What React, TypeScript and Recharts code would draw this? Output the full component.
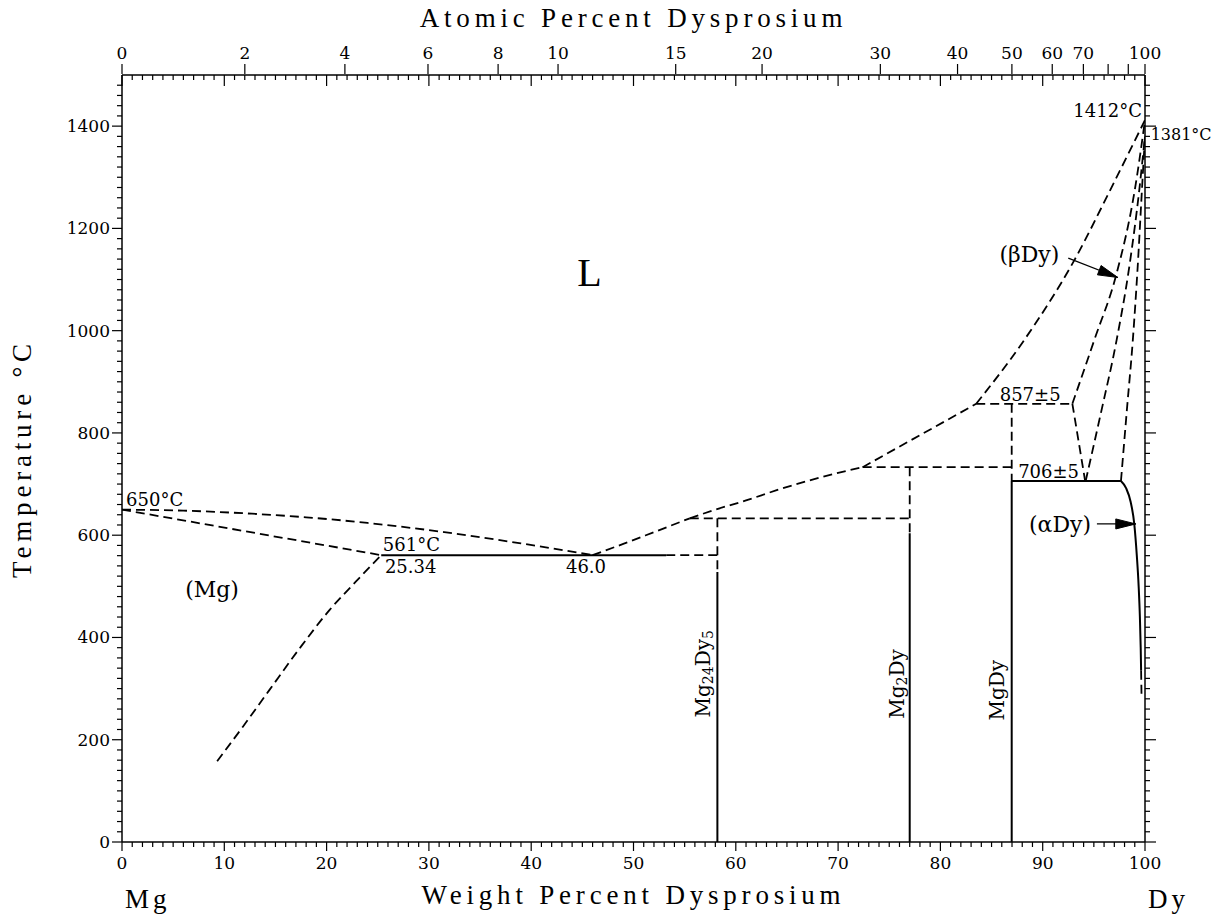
import React from "react";
import { ComposedChart, Line, XAxis, YAxis, ReferenceDot, Label } from "recharts";

type P = { x: number; y: number };

// ---------- axis ticks ----------
const weightMajor = [0, 10, 20, 30, 40, 50, 60, 70, 80, 90, 100];
const weightMinor = Array.from({ length: 101 }, (_, i) => i);
const tempMajor = [0, 200, 400, 600, 800, 1000, 1200, 1400];
const tempMinor = Array.from({ length: 75 }, (_, i) => i * 20);
const atomicTicks = [0, 2, 4, 6, 8, 10, 15, 20, 30, 40, 50, 60, 70, 80, 90, 100];
const atomicLabelled = [0, 2, 4, 6, 8, 10, 15, 20, 30, 40, 50, 60, 70, 100];

// atomic masses for the at.% -> wt.% top scale
const MASS_MG = 24.305;
const MASS_DY = 162.5;
const atToWt = (a: number) => (a * MASS_DY) / (a * MASS_DY + (100 - a) * MASS_MG) * 100;
const wtToAt = (w: number) => (w / MASS_DY) / (w / MASS_DY + (100 - w) / MASS_MG) * 100;

// ---------- phase boundaries (wt.% Dy, °C) ----------
const liquidusMg: P[] = [
  { x: 0, y: 650 }, { x: 6, y: 648 }, { x: 12.7, y: 642 }, { x: 18, y: 635 },
  { x: 24, y: 624 }, { x: 31.5, y: 606 }, { x: 39, y: 584 }, { x: 46, y: 561 },
];
const solidusMg: P[] = [{ x: 0, y: 650 }, { x: 25.34, y: 561 }];
const solvusMg: P[] = [
  { x: 9.3, y: 158 }, { x: 11.8, y: 225 }, { x: 14.4, y: 297 }, { x: 17.3, y: 377 },
  { x: 20.3, y: 454 }, { x: 22.9, y: 510 }, { x: 25.34, y: 561 },
];
const eutecticSolid: P[] = [{ x: 25.34, y: 561 }, { x: 53.2, y: 561 }];
const eutecticDash: P[] = [{ x: 53.2, y: 561 }, { x: 58.2, y: 561 }];
const liquidus46to55: P[] = [{ x: 46, y: 561 }, { x: 49, y: 583 }, { x: 52, y: 606 }, { x: 55.5, y: 633 }];
const liquidus55to72: P[] = [
  { x: 55.5, y: 633 }, { x: 58, y: 650 }, { x: 61, y: 668 }, { x: 64, y: 688 },
  { x: 67, y: 706 }, { x: 70, y: 722 }, { x: 72.4, y: 733 },
];
const liquidus72to83: P[] = [{ x: 72.4, y: 733 }, { x: 83.5, y: 857 }];
const liquidus83to100: P[] = [
  { x: 83.5, y: 857 }, { x: 88.1, y: 979 }, { x: 93.1, y: 1138 }, { x: 96.6, y: 1275 }, { x: 100, y: 1412 },
];
const peritectic633: P[] = [{ x: 55.5, y: 633 }, { x: 77.0, y: 633 }];
const peritectic733: P[] = [{ x: 72.4, y: 733 }, { x: 86.97, y: 733 }];
const peritectic857: P[] = [{ x: 83.5, y: 857 }, { x: 92.9, y: 857 }];
const eutectoid706: P[] = [{ x: 86.97, y: 706 }, { x: 97.65, y: 706 }];
const mg24dy5Dash: P[] = [{ x: 58.2, y: 633 }, { x: 58.2, y: 528 }];
const mg24dy5Solid: P[] = [{ x: 58.2, y: 528 }, { x: 58.2, y: 0 }];
const mg2dyDash: P[] = [{ x: 77.0, y: 733 }, { x: 77.0, y: 604 }];
const mg2dySolid: P[] = [{ x: 77.0, y: 604 }, { x: 77.0, y: 0 }];
const mgdyDash: P[] = [{ x: 86.97, y: 857 }, { x: 86.97, y: 706 }];
const mgdySolid: P[] = [{ x: 86.97, y: 706 }, { x: 86.97, y: 0 }];
const betaLower: P[] = [{ x: 92.9, y: 857 }, { x: 94.15, y: 706 }];
const betaSolidus: P[] = [
  { x: 92.9, y: 857 }, { x: 95.1, y: 985 }, { x: 97.2, y: 1110 }, { x: 99.0, y: 1275 }, { x: 100, y: 1412 },
];
const betaAlpha: P[] = [
  { x: 94.2, y: 706 }, { x: 95.7, y: 840 }, { x: 97.2, y: 979 }, { x: 98.5, y: 1130 },
  { x: 99.44, y: 1275 }, { x: 100, y: 1381 },
];
const alphaBeta: P[] = [
  { x: 97.65, y: 706 }, { x: 98.25, y: 850 }, { x: 98.8, y: 979 }, { x: 99.3, y: 1130 },
  { x: 99.7, y: 1275 }, { x: 100, y: 1381 },
];
const alphaSolvus: P[] = [
  { x: 97.65, y: 706 }, { x: 98.15, y: 692 }, { x: 98.6, y: 665 }, { x: 98.95, y: 622 },
  { x: 99.2, y: 560 }, { x: 99.38, y: 500 }, { x: 99.5, y: 440 }, { x: 99.58, y: 380 }, { x: 99.62, y: 335 },
];
const alphaSolvusTail: P[] = [{ x: 99.62, y: 335 }, { x: 99.66, y: 288 }];

// arrows
const betaArrow: P[] = [{ x: 92.5, y: 1142 }, { x: 97.35, y: 1104 }];
const alphaArrow: P[] = [{ x: 95.3, y: 622 }, { x: 99.1, y: 622 }];

// ---------- label anchors ----------
const plainLabels = [
  { x: 0.4, y: 669, text: "650°C", anchor: "start", kind: "small" },
  { x: 25.5, y: 581, text: "561°C", anchor: "start", kind: "small" },
  { x: 25.7, y: 538, text: "25.34", anchor: "start", kind: "small" },
  { x: 43.4, y: 538, text: "46.0", anchor: "start", kind: "small" },
  { x: 85.8, y: 876, text: "857±5", anchor: "start", kind: "small" },
  { x: 87.6, y: 725, text: "706±5", anchor: "start", kind: "small" },
  { x: 99.7, y: 1430, text: "1412°C", anchor: "end", kind: "small" },
  { x: 100.55, y: 1383, text: "1381°C", anchor: "start", kind: "tiny" },
  { x: 8.8, y: 493, text: "(Mg)", anchor: "middle", kind: "phase" },
  { x: 45.7, y: 1113, text: "L", anchor: "middle", kind: "big" },
  { x: 88.7, y: 1148, text: "(βDy)", anchor: "middle", kind: "phase" },
  { x: 91.7, y: 620, text: "(αDy)", anchor: "middle", kind: "phase" },
];
const compoundLabels = [
  { x: 56.8, y: 329, parts: [["Mg", 0], ["24", 1], ["Dy", 0], ["5", 1]] as [string, number][] },
  { x: 75.8, y: 309, parts: [["Mg", 0], ["2", 1], ["Dy", 0]] as [string, number][] },
  { x: 85.5, y: 297, parts: [["MgDy", 0]] as [string, number][] },
];

// ---------- styling ----------
const SERIF = "'DejaVu Serif', serif";
const TITLE = "'Liberation Serif', serif";
const DASH = "9 5";
const labelSize: Record<string, number> = { big: 40, phase: 22, small: 18, tiny: 16 };

const series: { data: P[]; dashed: boolean; curve: "linear" | "monotone" }[] = [
  { data: liquidusMg, dashed: true, curve: "monotone" },
  { data: solidusMg, dashed: true, curve: "linear" },
  { data: solvusMg, dashed: true, curve: "monotone" },
  { data: eutecticSolid, dashed: false, curve: "linear" },
  { data: eutecticDash, dashed: true, curve: "linear" },
  { data: liquidus46to55, dashed: true, curve: "monotone" },
  { data: liquidus55to72, dashed: true, curve: "monotone" },
  { data: liquidus72to83, dashed: true, curve: "linear" },
  { data: liquidus83to100, dashed: true, curve: "monotone" },
  { data: peritectic633, dashed: true, curve: "linear" },
  { data: peritectic733, dashed: true, curve: "linear" },
  { data: peritectic857, dashed: true, curve: "linear" },
  { data: eutectoid706, dashed: false, curve: "linear" },
  { data: mg24dy5Dash, dashed: true, curve: "linear" },
  { data: mg24dy5Solid, dashed: false, curve: "linear" },
  { data: mg2dyDash, dashed: true, curve: "linear" },
  { data: mg2dySolid, dashed: false, curve: "linear" },
  { data: mgdyDash, dashed: true, curve: "linear" },
  { data: mgdySolid, dashed: false, curve: "linear" },
  { data: betaLower, dashed: true, curve: "linear" },
  { data: betaSolidus, dashed: true, curve: "monotone" },
  { data: betaAlpha, dashed: true, curve: "monotone" },
  { data: alphaBeta, dashed: true, curve: "monotone" },
  { data: alphaSolvus, dashed: false, curve: "monotone" },
  { data: alphaSolvusTail, dashed: true, curve: "linear" },
];

// ---------- tick renderers ----------
const BottomTick = (p: any) => {
  const v = p.payload.value;
  const major = weightMajor.includes(v);
  return (
    <g>
      <line x1={p.x} x2={p.x} y1={p.y} y2={p.y + (major ? 9 : 5)} stroke="#000" strokeWidth={1.2} />
      {major && (
        <text x={p.x} y={p.y + 27} textAnchor="middle" fontFamily={SERIF} fontSize={17} fill="#000">{v}</text>
      )}
    </g>
  );
};
const TopWeightTick = (p: any) => {
  const v = p.payload.value;
  const major = weightMajor.includes(v);
  return <line x1={p.x} x2={p.x} y1={p.y} y2={p.y + (major ? 11 : 5)} stroke="#000" strokeWidth={1.2} />;
};
const TopAtomicTick = (p: any) => {
  const a = Math.round(wtToAt(p.payload.value));
  const show = atomicLabelled.includes(a);
  return (
    <g>
      <line x1={p.x} x2={p.x} y1={p.y} y2={p.y - 10} stroke="#000" strokeWidth={1.2} />
      {show && (
        <text x={p.x} y={p.y - 15} textAnchor="middle" fontFamily={SERIF} fontSize={17} fill="#000">{a}</text>
      )}
    </g>
  );
};
const LeftTick = (p: any) => {
  const v = p.payload.value;
  const major = tempMajor.includes(v);
  return (
    <g>
      <line x1={p.x} x2={p.x - (major ? 10 : 5)} y1={p.y} y2={p.y} stroke="#000" strokeWidth={1.2} />
      {major && (
        <text x={p.x - 12} y={p.y} dominantBaseline="central" textAnchor="end" fontFamily={SERIF} fontSize={17} fill="#000">{v}</text>
      )}
    </g>
  );
};
const RightTick = (p: any) => {
  const v = p.payload.value;
  const major = tempMajor.includes(v);
  return <line x1={p.x} x2={p.x + (major ? 11 : 5)} y1={p.y} y2={p.y} stroke="#000" strokeWidth={1.2} />;
};

const ArrowHead = (props: any) => {
  const { cx, cy, index, points } = props;
  if (index !== 1 || cx == null) return <g key={`ah-${index}`} />;
  const p0 = points && points[0] ? points[0] : { x: cx - 10, y: cy };
  const ang = Math.atan2(cy - p0.y, cx - p0.x);
  const L = 20, W = 5;
  const bx = cx - L * Math.cos(ang), by = cy - L * Math.sin(ang);
  const pts = `${cx},${cy} ${bx + W * Math.sin(ang)},${by - W * Math.cos(ang)} ${bx - W * Math.sin(ang)},${by + W * Math.cos(ang)}`;
  return <polygon key={`ah-${index}`} points={pts} fill="#000" stroke="#000" />;
};

const AX = "#000";

export default function App() {
  return (
    <div style={{ position: "absolute", left: 0, top: 0, background: "#fff" }}>
      <ComposedChart width={1218} height={915} margin={{ top: 73, right: 72, bottom: 72, left: 121 }}>
        <XAxis
          xAxisId="b" type="number" dataKey="x" domain={[0, 100]} allowDataOverflow
          orientation="bottom" height={1} ticks={weightMinor} interval={0}
          tickSize={0} tickMargin={0} tickLine={false} tick={<BottomTick />}
          axisLine={{ stroke: AX, strokeWidth: 1.5 }}
        >
          <Label
            content={(lp: any) => {
              const vb = lp.viewBox || { x: 122, y: 842, width: 1023 };
              return (
                <g fontFamily={TITLE} fontSize={27} fill="#000">
                  <text x={vb.x + vb.width / 2} y={vb.y + 62} textAnchor="middle" letterSpacing={4.8}>Weight Percent Dysprosium</text>
                  <text x={vb.x + 3} y={vb.y + 66} textAnchor="start" letterSpacing={4}>Mg</text>
                  <text x={vb.x + vb.width + 3} y={vb.y + 66} textAnchor="start" letterSpacing={4}>Dy</text>
                </g>
              );
            }}
          />
        </XAxis>
        <XAxis
          xAxisId="t" type="number" dataKey="x" domain={[0, 100]} allowDataOverflow
          orientation="top" height={1} ticks={weightMinor} interval={0}
          tickSize={0} tickMargin={0} tickLine={false} tick={<TopWeightTick />}
          axisLine={{ stroke: AX, strokeWidth: 1.5 }}
        >
          <Label
            content={(lp: any) => {
              const vb = lp.viewBox || { x: 122, y: 75, width: 1023 };
              return (
                <text x={vb.x + vb.width / 2} y={vb.y - 47} textAnchor="middle" fontFamily={TITLE} fontSize={27} letterSpacing={4.8} fill="#000">
                  Atomic Percent Dysprosium
                </text>
              );
            }}
          />
        </XAxis>
        <XAxis
          xAxisId="ta" type="number" dataKey="x" domain={[0, 100]} allowDataOverflow
          orientation="top" height={1} ticks={atomicTicks.map(atToWt)} interval={0}
          tickSize={0} tickMargin={0} tickLine={false} tick={<TopAtomicTick />} axisLine={false}
        />
        <YAxis
          yAxisId="l" type="number" domain={[0, 1500]} allowDataOverflow width={1}
          ticks={tempMinor} interval={0} tickSize={0} tickMargin={0} tickLine={false}
          tick={<LeftTick />} axisLine={{ stroke: AX, strokeWidth: 1.5 }}
        >
          <Label
            content={(lp: any) => {
              const vb = lp.viewBox || { x: 121, y: 75, width: 1, height: 767 };
              const cx = vb.x - 99, cy = vb.y + vb.height / 2;
              return (
                <text x={cx} y={cy} transform={`rotate(-90 ${cx} ${cy})`} textAnchor="middle" dominantBaseline="central"
                  fontFamily={TITLE} fontSize={27} letterSpacing={4.8} fill="#000">
                  Temperature °C
                </text>
              );
            }}
          />
        </YAxis>
        <YAxis
          yAxisId="r" orientation="right" type="number" domain={[0, 1500]} allowDataOverflow width={1}
          ticks={tempMinor} interval={0} tickSize={0} tickMargin={0} tickLine={false}
          tick={<RightTick />} axisLine={{ stroke: AX, strokeWidth: 1.5 }}
        />

        {/* invisible anchors so the extra axes are active */}
        <Line xAxisId="t" yAxisId="r" data={[{ x: 0, y: 0 }, { x: 100, y: 1500 }]} dataKey="y" stroke="none" dot={false} activeDot={false} isAnimationActive={false} />
        <Line xAxisId="ta" yAxisId="r" data={[{ x: 0, y: 0 }, { x: 100, y: 1500 }]} dataKey="y" stroke="none" dot={false} activeDot={false} isAnimationActive={false} />

        {series.map((s, i) => (
          <Line
            key={`s${i}`} xAxisId="b" yAxisId="l" data={s.data} dataKey="y" type={s.curve}
            stroke="#000" strokeWidth={s.dashed ? 1.8 : 2} strokeDasharray={s.dashed ? DASH : undefined}
            dot={false} activeDot={false} isAnimationActive={false}
          />
        ))}

        <Line xAxisId="b" yAxisId="l" data={betaArrow} dataKey="y" type="linear" stroke="#000" strokeWidth={1.3}
          dot={(p: any) => <ArrowHead {...p} />} activeDot={false} isAnimationActive={false} />
        <Line xAxisId="b" yAxisId="l" data={alphaArrow} dataKey="y" type="linear" stroke="#000" strokeWidth={1.3}
          dot={(p: any) => <ArrowHead {...p} />} activeDot={false} isAnimationActive={false} />

        {plainLabels.map((l, i) => (
          <ReferenceDot
            key={`pl${i}`} xAxisId="b" yAxisId="l" x={l.x} y={l.y} r={0} ifOverflow="visible"
            shape={(s: any) => (
              <text
                x={s.cx} y={s.cy} textAnchor={l.anchor as any} dominantBaseline="central"
                fontFamily={l.kind === "big" ? TITLE : SERIF}
                fontSize={labelSize[l.kind]} fill="#000"
              >
                {l.text}
              </text>
            )}
          />
        ))}
        {compoundLabels.map((c, i) => (
          <ReferenceDot
            key={`cl${i}`} xAxisId="b" yAxisId="l" x={c.x} y={c.y} r={0} ifOverflow="visible"
            shape={(s: any) => {
              let shifted = false;
              return (
                <text x={s.cx} y={s.cy} transform={`rotate(-90 ${s.cx} ${s.cy})`} textAnchor="middle"
                  dominantBaseline="central" fontFamily={SERIF} fontSize={20} fill="#000">
                  {c.parts.map(([t, sub], k) => {
                    let dy = 0;
                    if (sub && !shifted) { dy = 5; shifted = true; }
                    else if (!sub && shifted) { dy = -5; shifted = false; }
                    return (
                      <tspan key={k} dy={dy} fontSize={sub ? 14 : 20}>{t}</tspan>
                    );
                  })}
                </text>
              );
            }}
          />
        ))}
      </ComposedChart>
    </div>
  );
}
